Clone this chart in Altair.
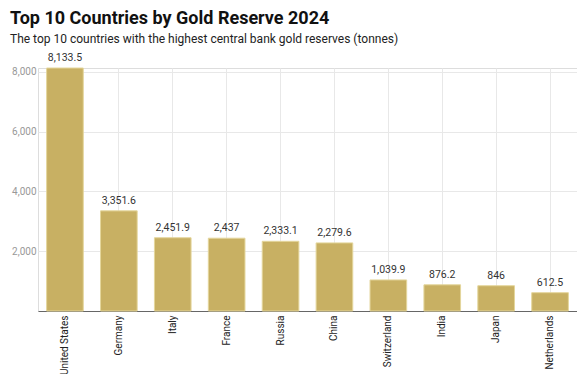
import altair as alt
import pandas as pd

countries = ["United States", "Germany", "Italy", "France", "Russia", "China",
             "Switzerland", "India", "Japan", "Netherlands"]
reserves = [8133.5, 3351.6, 2451.9, 2437, 2333.1, 2279.6, 1039.9, 876.2, 846, 612.5]
labels = ["8,133.5", "3,351.6", "2,451.9", "2,437", "2,333.1", "2,279.6",
          "1,039.9", "876.2", "846", "612.5"]

df = pd.DataFrame({"country": countries, "tonnes": reserves, "label": labels})

x = alt.X("country:N", sort=countries, title=None,
          scale=alt.Scale(paddingInner=0.32, paddingOuter=0.16),
          axis=alt.Axis(labelAngle=-90, labelFontSize=10, labelColor="#222",
                        labelFont="Roboto", tickSize=0, labelPadding=4,
                        domainColor="#666", domainWidth=1, grid=True,
                        gridColor="#e8e8e8"))
y = alt.Y("tonnes:Q", title=None,
          scale=alt.Scale(domain=[0, 8133.5], nice=False),
          axis=alt.Axis(values=[2000, 4000, 6000, 8000], format=",.0f",
                        labelFontSize=10, labelColor="#999", labelFont="Roboto",
                        tickSize=0, labelPadding=2, domain=False,
                        gridColor="#e8e8e8"))

bars = alt.Chart(df).mark_bar(color="#c8b063", stroke="#e4d69c",
                              strokeWidth=1).encode(x=x, y=y)
text = alt.Chart(df).mark_text(baseline="bottom", dy=-5, fontSize=10.5,
                               color="#333", font="Roboto").encode(
    x=alt.X("country:N", sort=countries), y="tonnes:Q", text="label:N")

chart = (bars + text).properties(
    width=539, height=243,
    title=alt.TitleParams(
        text="Top 10 Countries by Gold Reserve 2024",
        subtitle="The top 10 countries with the highest central bank gold reserves (tonnes)",
        anchor="start", frame="group", font="Roboto", fontSize=18, fontWeight="bold",
        color="#111", subtitleFont="Roboto", subtitleFontSize=12,
        subtitleColor="#222", subtitlePadding=6, offset=8, dx=-28),
    padding={"left": 2, "top": 2, "right": 0, "bottom": 0}
).configure_view(stroke=None).configure(background="white")

chart.save("out.html", embed_options={"renderer": "svg", "actions": False})
